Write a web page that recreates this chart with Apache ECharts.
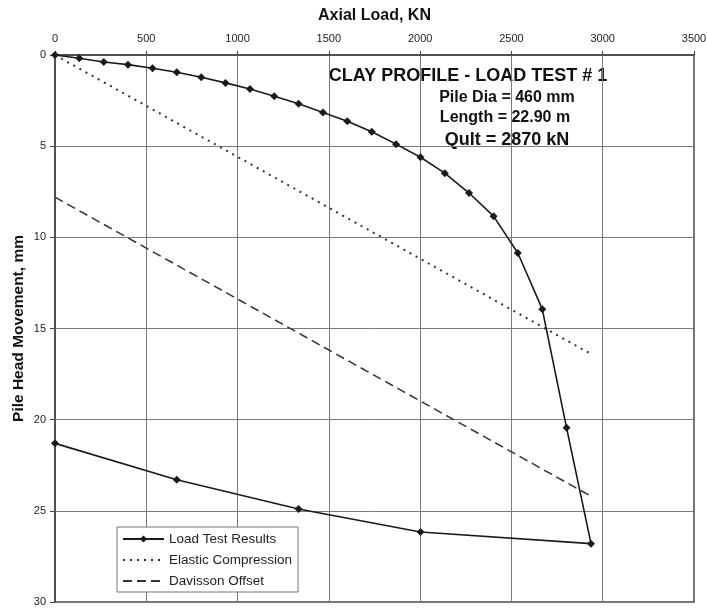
<!DOCTYPE html>
<html>
<head>
<meta charset="utf-8">
<script src="https://cdn.jsdelivr.net/npm/echarts@6/dist/echarts.min.js"></script>
<style>
  html, body { margin: 0; padding: 0; background: #fff; }
  #chart { width: 707px; height: 612px; }
</style>
</head>
<body>
<div id="chart"></div>
<script>
// axial load (kN) and pile head movement (mm)
var loadTestLoad = [0, 133, 267, 400, 534, 667, 801, 934, 1068, 1201, 1334, 1468, 1601, 1735, 1868,
                    2002, 2135, 2268, 2402, 2535, 2669, 2802, 2936, 2002, 1334, 667, 0];
var loadTestMove = [0, 0.18, 0.38, 0.53, 0.73, 0.95, 1.22, 1.53, 1.86, 2.26, 2.67, 3.16, 3.63, 4.21, 4.89,
                    5.61, 6.48, 7.57, 8.84, 10.86, 13.94, 20.45, 26.8, 26.16, 24.9, 23.3, 21.3];
var elasticLoad = [0, 2936];
var elasticMove = [0, 16.4];
var davissonLoad = [0, 2936];
var davissonMove = [7.8, 24.2];
var noteLines = ['CLAY PROFILE - LOAD TEST # 1', 'Pile Dia = 460 mm', 'Length = 22.90 m', 'Qult = 2870 kN'];

function pairs(xs, ys) {
    return xs.map(function (x, i) { return [x, ys[i]]; });
}

var chart = echarts.init(document.getElementById('chart'));
var font = 'Liberation Sans, Arial, sans-serif';
var noLegendDot = { opacity: 0, color: 'rgba(0,0,0,0)', borderWidth: 0 };

var option = {
    backgroundColor: '#fff',
    animation: false,
    textStyle: { fontFamily: font },
    grid: {
        left: 55, top: 55, right: 13, bottom: 10,
        outerBoundsMode: 'none',
        containLabel: false,
        show: true,
        borderColor: '#444',
        borderWidth: 1.5
    },
    xAxis: {
        type: 'value',
        position: 'top',
        min: 0, max: 3500, interval: 500,
        name: 'Axial Load, KN',
        nameLocation: 'middle',
        nameGap: 31,
        nameTextStyle: { fontSize: 16, fontWeight: 'bold', color: '#111' },
        axisLine: { show: true, lineStyle: { color: '#444', width: 1.5 } },
        axisTick: { show: true, length: 4, lineStyle: { color: '#444' } },
        axisLabel: { fontSize: 11, color: '#222', margin: 11, formatter: function (v) { return String(v); } },
        splitLine: { show: true, lineStyle: { color: '#7a7a7a', width: 1 } }
    },
    yAxis: {
        type: 'value',
        inverse: true,
        min: 0, max: 30, interval: 5,
        name: 'Pile Head Movement, mm',
        nameLocation: 'middle',
        nameGap: 28,
        nameMoveOverlap: false,
        nameTextStyle: { fontSize: 15.5, fontWeight: 'bold', color: '#111' },
        axisLine: { show: true, lineStyle: { color: '#444', width: 1.5 } },
        axisTick: { show: true, length: 5, lineStyle: { color: '#444' } },
        axisLabel: { fontSize: 11, color: '#222', margin: 9 },
        splitLine: { show: true, lineStyle: { color: '#7a7a7a', width: 1 } }
    },
    legend: {
        orient: 'vertical',
        left: 117, top: 527,
        backgroundColor: '#fff',
        borderColor: '#777',
        borderWidth: 1,
        padding: [5, 6, 4, 5],
        itemWidth: 41,
        itemHeight: 9,
        itemGap: 7,
        textStyle: { fontSize: 13.5, color: '#222' },
        data: [
            { name: 'Load Test Results' },
            { name: 'Elastic Compression', itemStyle: noLegendDot },
            { name: 'Davisson Offset', itemStyle: noLegendDot }
        ]
    },
    series: [
        {
            name: 'Load Test Results',
            type: 'line',
            data: pairs(loadTestLoad, loadTestMove),
            symbol: 'diamond',
            symbolSize: 8,
            itemStyle: { color: '#1a1a1a' },
            lineStyle: { color: '#1a1a1a', width: 1.6 },
            z: 5
        },
        {
            name: 'Elastic Compression',
            type: 'line',
            data: pairs(elasticLoad, elasticMove),
            symbol: 'none',
            itemStyle: { color: 'rgba(0,0,0,0)' },
            lineStyle: { color: '#333', width: 2, type: [2, 5] }
        },
        {
            name: 'Davisson Offset',
            type: 'line',
            data: pairs(davissonLoad, davissonMove),
            symbol: 'none',
            itemStyle: { color: 'rgba(0,0,0,0)' },
            lineStyle: { color: '#333', width: 1.5, type: [9, 5] }
        }
    ],
    graphic: [
        { type: 'text', x: 468, y: 76, style: { text: noteLines[0], font: 'bold 18px ' + font, fill: '#111', align: 'center', verticalAlign: 'middle' } },
        { type: 'text', x: 507, y: 98, style: { text: noteLines[1], font: 'bold 16px ' + font, fill: '#111', align: 'center', verticalAlign: 'middle' } },
        { type: 'text', x: 505, y: 118, style: { text: noteLines[2], font: 'bold 16px ' + font, fill: '#111', align: 'center', verticalAlign: 'middle' } },
        { type: 'text', x: 507, y: 140, style: { text: noteLines[3], font: 'bold 18px ' + font, fill: '#111', align: 'center', verticalAlign: 'middle' } }
    ]
};

chart.setOption(option);
</script>
</body>
</html>
